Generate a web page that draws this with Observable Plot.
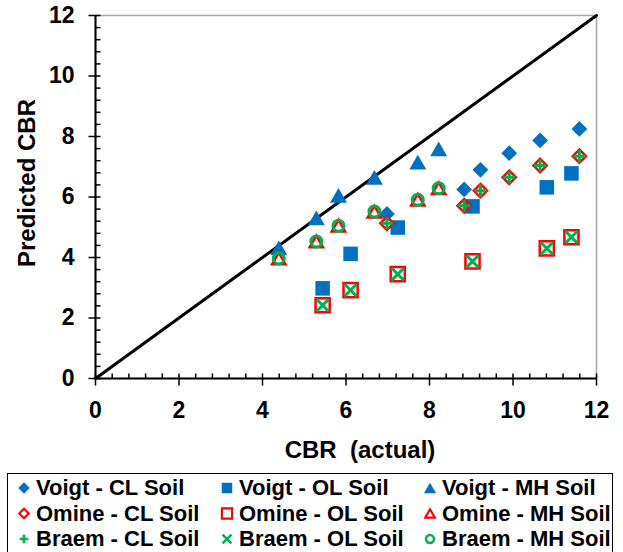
<!DOCTYPE html>
<html>
<head>
<meta charset="utf-8">
<script src="https://cdn.jsdelivr.net/npm/d3@7"></script>
<script src="https://cdn.jsdelivr.net/npm/@observablehq/plot@0.6"></script>
<style>
  body { margin: 0; background: #fff; font-family: "Liberation Sans", Arial, sans-serif; }
  #chart { position: relative; width: 623px; height: 552px; overflow: hidden; }
  #legend {
    position: absolute; left: 7px; top: 473px; width: 606px; height: 90px;
    border: 1.5px solid #000; box-sizing: border-box;
  }
</style>
</head>
<body>
<div id="chart"><div id="legend"></div></div>
<script>
// Predicted vs actual CBR, three methods x three soils

// actual CBR per soil
const cbrCL = [6.98, 8.83, 9.22, 9.91, 10.65, 11.59];
const cbrOL = [5.44, 6.11, 7.24, 9.03, 10.81, 11.40];
const cbrMH = [4.39, 5.29, 5.82, 6.68, 7.72, 8.22];

// predicted CBR
const voigtCL = [5.44, 6.25, 6.90, 7.45, 7.87, 8.25];
const voigtOL = [2.98, 4.12, 4.99, 5.69, 6.32, 6.78];
const voigtMH = [4.32, 5.31, 6.05, 6.65, 7.15, 7.59];
const omineCL = [5.13, 5.71, 6.21, 6.65, 7.04, 7.35];
const omineOL = [2.42, 2.92, 3.45, 3.87, 4.30, 4.67];
const omineMH = [3.97, 4.53, 5.05, 5.52, 5.91, 6.29];
const braemCL = [5.13, 5.71, 6.21, 6.65, 7.04, 7.35];
const braemOL = [2.42, 2.92, 3.45, 3.87, 4.30, 4.67];
const braemMH = [3.97, 4.53, 5.05, 5.52, 5.91, 6.29];

const majorTicks = [0, 2, 4, 6, 8, 10, 12];
const minorTicks = d3.range(0, 12.01, 0.4).filter(v => Math.abs(v / 2 - Math.round(v / 2)) > 1e-6);
const diag = [0, 12];

const BLUE = "#0070C0", RED = "#FF0000", GREEN = "#00B050";

const series = [
  { name: "Voigt - CL Soil", x: cbrCL, y: voigtCL, symbol: "diamond2", fill: BLUE, r: 7.1 },
  { name: "Voigt - OL Soil", x: cbrOL, y: voigtOL, symbol: "square", fill: BLUE, r: 8.2 },
  { name: "Voigt - MH Soil", x: cbrMH, y: voigtMH, symbol: "triangle", fill: BLUE, r: 6.3, dy: 2.4 },
  { name: "Omine - CL Soil", x: cbrCL, y: omineCL, symbol: "diamond2", stroke: RED, r: 6, sw: 2.5 },
  { name: "Omine - OL Soil", x: cbrOL, y: omineOL, symbol: "square2", stroke: RED, r: 9, sw: 2.5 },
  { name: "Omine - MH Soil", x: cbrMH, y: omineMH, symbol: "triangle2", stroke: RED, r: 6.4, sw: 2.5, dy: 2 },
  { name: "Braem - CL Soil", x: cbrCL, y: braemCL, symbol: "plus", stroke: GREEN, r: 4, sw: 3 },
  { name: "Braem - OL Soil", x: cbrOL, y: braemOL, symbol: "times", stroke: GREEN, r: 5.7, sw: 3 },
  { name: "Braem - MH Soil", x: cbrMH, y: braemMH, symbol: "circle", stroke: GREEN, r: 5.5, sw: 3 },
];

const dotMarks = series.map(s => Plot.dot(s.x.map((x, i) => ({ x, y: s.y[i] })), {
  x: "x", y: "y", symbol: s.symbol, r: s.r,
  fill: s.fill ?? "none", stroke: s.stroke ?? "none", strokeWidth: s.sw ?? 1,
  dy: s.dy ?? 0,
}));

// tick marks: one custom symbol per axis, major ticks (r = 2) cross the axis,
// minor ones (r = 1) only point inward
const allTicks = [...minorTicks, ...majorTicks];
const isMajor = d => majorTicks.includes(d);
const xTickSymbol = { draw(ctx, size) { ctx.moveTo(0, -5); ctx.lineTo(0, size > 6 ? 7 : 0); } };
const yTickSymbol = { draw(ctx, size) { ctx.moveTo(size > 6 ? -7 : 0, 0); ctx.lineTo(5, 0); } };
const tickStyle = { fill: "none", stroke: "#000", strokeWidth: 1.5 };

const font = "'Liberation Sans', Arial, sans-serif";

const plot = Plot.plot({
  width: 623,
  height: 472,
  marginLeft: 95,
  marginRight: 27,
  marginTop: 15,
  marginBottom: 94,
  x: { domain: [0, 12], label: null },
  y: { domain: [0, 12], label: null },
  r: { type: "identity" },
  style: { fontFamily: font, fontWeight: "bold", color: "#000", background: "#fff" },
  marks: [
    Plot.frame({ stroke: "#a6a6a6", strokeWidth: 1.5 }),
    Plot.dot(allTicks, { x: d => d, r: d => isMajor(d) ? 2 : 1, frameAnchor: "bottom", symbol: xTickSymbol, ...tickStyle }),
    Plot.dot(allTicks, { y: d => d, r: d => isMajor(d) ? 2 : 1, frameAnchor: "left", symbol: yTickSymbol, ...tickStyle }),
    Plot.axisY(majorTicks, { tickSize: 0, tickPadding: 21, fontSize: 23, label: null }),
    Plot.axisX(majorTicks, { tickSize: 0, tickPadding: 23, fontSize: 23, label: null }),
    Plot.ruleX([0], { strokeWidth: 2 }),
    Plot.ruleY([0], { strokeWidth: 2 }),
    Plot.line(diag, { x: d => d, y: d => d, strokeWidth: 3, stroke: "#000" }),
    ...dotMarks,
    Plot.text(["CBR\u00a0 (actual)"], { frameAnchor: "bottom", textAnchor: "middle", lineAnchor: "middle", dx: 14, dy: 72, fontSize: 24, fontWeight: "bold" }),
    Plot.text(["Predicted CBR"], { frameAnchor: "left", textAnchor: "middle", lineAnchor: "middle", rotate: -90, dx: -68, dy: -14, fontSize: 24, fontWeight: "bold" }),
  ],
});
plot.style.position = "absolute";
plot.style.left = "0";
plot.style.top = "0";
document.getElementById("chart").prepend(plot);

// legend: 3 x 3 grid of marker + name, drawn with Plot inside the bordered box
const legendRows = series.map((s, i) => ({ ...s, col: i % 3, row: Math.floor(i / 3) }));
const legendPlot = Plot.plot({
  width: 603,
  height: 80,
  marginLeft: 15.5,
  marginRight: 181.5,
  marginTop: 13.5,
  marginBottom: 15.5,
  x: { domain: [0, 2], axis: null },
  y: { domain: [0, 2], reverse: true, axis: null },
  style: { fontFamily: font, fontWeight: "bold", color: "#000", background: "transparent" },
  marks: [
    ...legendRows.map(s => Plot.dot([s], {
      x: "col", y: "row", symbol: s.symbol, r: s.r * 0.72,
      fill: s.fill ?? "none", stroke: s.stroke ?? "none", strokeWidth: (s.sw ?? 1) * 0.85,
      dy: (s.dy ?? 0) * 0.7,
    })),
    Plot.text(legendRows, { x: "col", y: "row", text: "name", dx: 12, textAnchor: "start", lineAnchor: "middle", fontSize: 22, fontWeight: "bold" }),
  ],
});
legendPlot.style.display = "block";
document.getElementById("legend").appendChild(legendPlot);
</script>
</body>
</html>
